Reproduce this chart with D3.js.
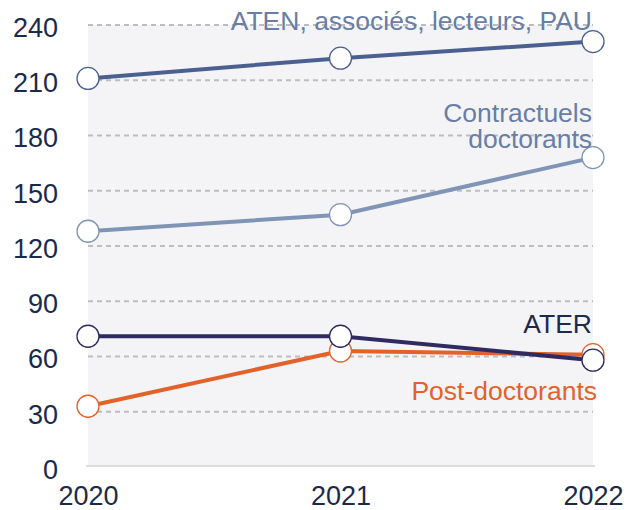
<!DOCTYPE html>
<html>
<head>
<meta charset="utf-8">
<script src="https://cdn.jsdelivr.net/npm/d3@7"></script>
<style>
  body { margin: 0; background: #fff; }
  text { font-family: "Liberation Sans", Arial, sans-serif; }
</style>
</head>
<body>
<div id="chart"></div>
<script>
// Data
const years = [2020, 2021, 2022];
const yTicks = [0, 30, 60, 90, 120, 150, 180, 210, 240];
const aten = [211, 222, 231];
const contractuels = [128, 137, 168];
const ater = [71, 71, 58];
const postdoc = [33, 63, 61];

// drawn in this order (later on top)
const series = [
  { name: "Post-doctorants", values: postdoc, color: "#e2622a", label: ["Post-doctorants"], labelColor: "#e2622a", ly: 400 },
  { name: "ATER", values: ater, color: "#302a62", label: ["ATER"], labelColor: "#1e2a4c", ly: 333 },
  { name: "Contractuels doctorants", values: contractuels, color: "#8094b6", label: ["Contractuels", "doctorants"], labelColor: "#687ea6", ly: 122 },
  { name: "ATEN", values: aten, color: "#4b6091", label: ["ATEN, associés, lecteurs, PAU"], labelColor: "#687ea6", ly: 30 }
];

const width = 627, height = 510;
const plotLeft = 88, plotRight = 593, plotTop = 25, plotBottom = 467;

const svg = d3.select("#chart").append("svg")
  .attr("width", width)
  .attr("height", height);

const x = d3.scalePoint()
  .domain(years)
  .range([plotLeft, plotRight]);

const y = d3.scaleLinear()
  .domain([0, 240])
  .range([plotBottom, plotTop]);

// plot background
svg.append("rect")
  .attr("x", plotLeft)
  .attr("y", plotTop)
  .attr("width", plotRight - plotLeft)
  .attr("height", plotBottom - plotTop)
  .attr("fill", "#f4f4f7");

// gridlines
svg.selectAll(".grid")
  .data(yTicks.filter(d => d > 0))
  .enter().append("line")
  .attr("x1", plotLeft)
  .attr("x2", plotRight)
  .attr("y1", d => y(d))
  .attr("y2", d => y(d))
  .attr("stroke", "#bdbdbd")
  .attr("stroke-width", 2)
  .attr("stroke-dasharray", "5,4");

// baseline
svg.append("line")
  .attr("x1", plotLeft - 2)
  .attr("x2", plotRight + 2)
  .attr("y1", y(0) - 1)
  .attr("y2", y(0) - 1)
  .attr("stroke", "#dcdcdc")
  .attr("stroke-width", 2);

// y axis labels
const yAxis = svg.append("g")
  .attr("transform", `translate(${plotLeft - 30},0)`)
  .call(d3.axisLeft(y).tickValues(yTicks).tickSize(0).tickPadding(0));
yAxis.select(".domain").remove();
yAxis.selectAll("text")
  .attr("x", 0)
  .attr("dy", "0.42em")
  .attr("text-anchor", "end")
  .attr("font-size", 27)
  .attr("font-family", "Liberation Sans, Arial, sans-serif")
  .attr("fill", "#1b2a4b");

// x axis labels
const xAxis = svg.append("g")
  .attr("transform", `translate(0,${plotBottom})`)
  .call(d3.axisBottom(x).tickSize(0).tickPadding(0));
xAxis.select(".domain").remove();
xAxis.selectAll("text")
  .attr("y", 38)
  .attr("dy", 0)
  .attr("font-size", 27)
  .attr("font-family", "Liberation Sans, Arial, sans-serif")
  .attr("fill", "#1b2a4b");

const line = d3.line()
  .x((d, i) => x(years[i]))
  .y(d => y(d));

series.forEach(s => {
  svg.append("path")
    .datum(s.values)
    .attr("d", line)
    .attr("fill", "none")
    .attr("stroke", s.color)
    .attr("stroke-width", 4);
});

series.forEach(s => {
  svg.selectAll(null)
    .data(s.values)
    .enter().append("circle")
    .attr("cx", (d, i) => x(years[i]))
    .attr("cy", d => y(d))
    .attr("r", 11)
    .attr("fill", "#fff")
    .attr("stroke", s.color)
    .attr("stroke-width", 1.3);
});

// series labels
series.forEach(s => {
  const t = svg.append("text")
    .attr("text-anchor", "end")
    .attr("font-size", 26.5)
    .attr("fill", s.labelColor);
  s.label.forEach((l, i) => {
    t.append("tspan")
      .attr("x", s.name === "Post-doctorants" ? 597 : 592)
      .attr("y", s.ly + i * 26)
      .text(l);
  });
});
</script>
</body>
</html>
